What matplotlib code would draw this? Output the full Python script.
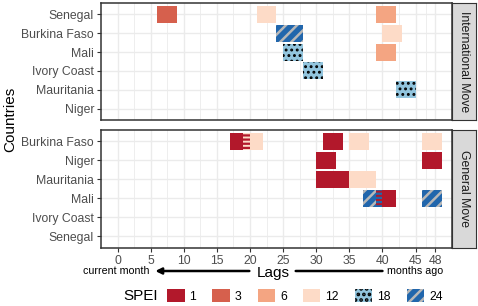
import matplotlib.pyplot as plt
from matplotlib.patches import Patch

plt.rcParams['font.family'] = ['Liberation Sans', 'DejaVu Sans']

# ----------------------------
# Data
# ----------------------------
spei_levels = [1, 3, 6, 12, 18, 24]
spei_colors = {1: '#B2182B', 3: '#D6604D', 6: '#F4A582',
               12: '#FDDBC7', 18: '#92C5DE', 24: '#2166AC'}
spei_hatch = {18: '...', 24: '///'}
hatch_colors = {18: 'black', 24: '#B8B8B8'}
hatch_widths = {18: 1.3, 24: 1.8}

x_ticks = [0, 5, 10, 15, 20, 25, 30, 35, 40, 45, 48]

intl_countries = ['Senegal', 'Burkina Faso', 'Mali', 'Ivory Coast', 'Mauritania', 'Niger']
intl_country = ['Senegal', 'Senegal', 'Senegal', 'Burkina Faso', 'Burkina Faso',
                'Mali', 'Mali', 'Ivory Coast', 'Mauritania']
intl_spei = [3, 12, 6, 24, 12, 18, 6, 18, 18]
intl_start = [6, 21, 39, 24, 40, 25, 39, 28, 42]
intl_end = [9, 24, 42, 28, 43, 28, 42, 31, 45]

gen_countries = ['Burkina Faso', 'Niger', 'Mauritania', 'Mali', 'Ivory Coast', 'Senegal']
gen_country = ['Burkina Faso', 'Burkina Faso', 'Burkina Faso', 'Burkina Faso', 'Burkina Faso',
               'Niger', 'Niger', 'Mauritania', 'Mauritania', 'Mali', 'Mali', 'Mali']
gen_spei = [1, 12, 1, 12, 12, 1, 1, 1, 12, 24, 1, 24]
gen_start = [17, 19, 31, 35, 46, 30, 46, 30, 35, 37, 39, 46]
gen_end = [20, 22, 34, 38, 49, 33, 49, 35, 39, 40, 42, 49]

# ----------------------------
# Layout (pixels of a 478x306 figure)
# ----------------------------
W, H = 478, 306
fig = plt.figure(figsize=(W / 100, H / 100), dpi=100)

def px_axes(left, top, right, bottom):
    return fig.add_axes([left / W, 1 - bottom / H, (right - left) / W, (bottom - top) / H])

ax1 = px_axes(101, 3, 452, 120)
ax2 = px_axes(101, 130, 452, 247.5)
strip1 = px_axes(452, 3, 476, 120)
strip2 = px_axes(452, 130, 476, 247.5)


def draw_panel(ax, countries, country, spei, start, end):
    n = len(countries)
    ypos = {c: n - 1 - i for i, c in enumerate(countries)}
    ys = [ypos[c] for c in country]
    widths = [e - s for s, e in zip(start, end)]
    ax.barh(ys, widths, left=start, height=0.9,
            color=[spei_colors[s] for s in spei], linewidth=0, zorder=2)
    # pattern overlays
    for y, s, w, lev in zip(ys, start, widths, spei):
        if lev in spei_hatch:
            plt.rcParams['hatch.linewidth'] = hatch_widths[lev]
            ax.barh(y, w, left=s, height=0.9, color='none', edgecolor=hatch_colors[lev],
                    hatch=spei_hatch[lev], linewidth=0, zorder=3)
    # overlapping tiles: striped cell
    for i in range(len(country)):
        for j in range(len(country)):
            if i != j and country[i] == country[j] and start[i] < start[j] < end[i]:
                o0, o1 = start[j], min(end[i], end[j])
                ax.barh(ypos[country[i]], o1 - o0, left=o0, height=0.9,
                        color=spei_colors[spei[j]], linewidth=0, zorder=4)
                plt.rcParams['hatch.linewidth'] = 1.6
                ax.barh(ypos[country[i]], o1 - o0, left=o0, height=0.9, color='none',
                        edgecolor=spei_colors[spei[i]], hatch='----', linewidth=0, zorder=5)

    ax.set_ylim(-0.6, n - 0.4)
    ax.set_yticks(range(n))
    ax.set_yticklabels(countries[::-1])
    ax.set_xlim(-2.5, 50.5)
    ax.set_xticks(x_ticks)
    ax.set_xticks([2.5, 7.5, 12.5, 17.5, 22.5, 27.5, 32.5, 37.5, 42.5, 46.5], minor=True)
    ax.grid(True, which='major', color='#EBEBEB', linewidth=1.0, zorder=0)
    ax.grid(True, which='minor', axis='x', color='#EBEBEB', linewidth=0.6, zorder=0)
    ax.set_axisbelow(True)
    ax.tick_params(which='minor', length=0)
    ax.tick_params(axis='both', which='major', length=3, width=0.8, color='#333333',
                   labelcolor='#4D4D4D', labelsize=8.8, pad=2)
    for sp in ax.spines.values():
        sp.set_color('#333333')
        sp.set_linewidth(1.1)


draw_panel(ax1, intl_countries, intl_country, intl_spei, intl_start, intl_end)
draw_panel(ax2, gen_countries, gen_country, gen_spei, gen_start, gen_end)
ax1.tick_params(axis='x', length=0, labelbottom=False)
ax2.tick_params(axis='x', pad=2.2)
ax2.set_xticklabels([str(t) for t in x_ticks])

# facet strips
for sax, label in [(strip1, 'International Move'), (strip2, 'General Move')]:
    sax.set_facecolor('#D9D9D9')
    sax.set_xticks([])
    sax.set_yticks([])
    for sp in sax.spines.values():
        sp.set_color('#333333')
        sp.set_linewidth(0.8)
    sax.text(0.5, 0.5, label, rotation=270, ha='center', va='center',
             fontsize=8.8, color='#1A1A1A', transform=sax.transAxes)

# x axis title with direction arrow (broken around the title)
tr = ax2.get_xaxis_transform()
ay = (247.5 - 271) / 117.5
ax2.annotate('', xy=(5.7, ay), xytext=(19.9, ay), xycoords=tr, textcoords=tr,
             annotation_clip=False,
             arrowprops=dict(arrowstyle='-|>', lw=1.8, color='black', mutation_scale=9,
                             shrinkA=0, shrinkB=0))
ax2.annotate('', xy=(26.9, ay), xytext=(40, ay), xycoords=tr, textcoords=tr,
             annotation_clip=False,
             arrowprops=dict(arrowstyle='-', lw=1.8, color='black',
                             shrinkA=0, shrinkB=0))
ax2.text(23.5, (247.5 - 272.5) / 117.5, 'Lags', transform=tr, ha='center', va='center',
         fontsize=11, clip_on=False)
ax2.text(4.8, ay, 'current month', transform=tr, ha='right', va='center', fontsize=7.7,
         clip_on=False)
ax2.text(40.7, ay, 'months ago', transform=tr, ha='left', va='center', fontsize=7.7,
         clip_on=False)

fig.text(10.5 / W, 1 - 119.5 / H, 'Countries', rotation=90, ha='center', va='center',
         fontsize=11)

# legend
handles = []
for lev in spei_levels:
    if lev in spei_hatch:
        plt.rcParams['hatch.linewidth'] = hatch_widths[lev]
        handles.append(Patch(facecolor=spei_colors[lev], edgecolor=hatch_colors[lev],
                             hatch=spei_hatch[lev], linewidth=0))
    else:
        handles.append(Patch(facecolor=spei_colors[lev], linewidth=0))
fig.legend(handles, [str(l) for l in spei_levels], ncol=6, frameon=False,
           loc='center left', bbox_to_anchor=(167 / W, 1 - 296 / H),
           fontsize=8.8, handlelength=1.45, handleheight=1.3, handletextpad=0.4,
           columnspacing=1.3, borderpad=0, borderaxespad=0)
fig.text(123 / W, 1 - 296 / H, 'SPEI', ha='left', va='center', fontsize=11)

fig.savefig('out.png', dpi=100)
